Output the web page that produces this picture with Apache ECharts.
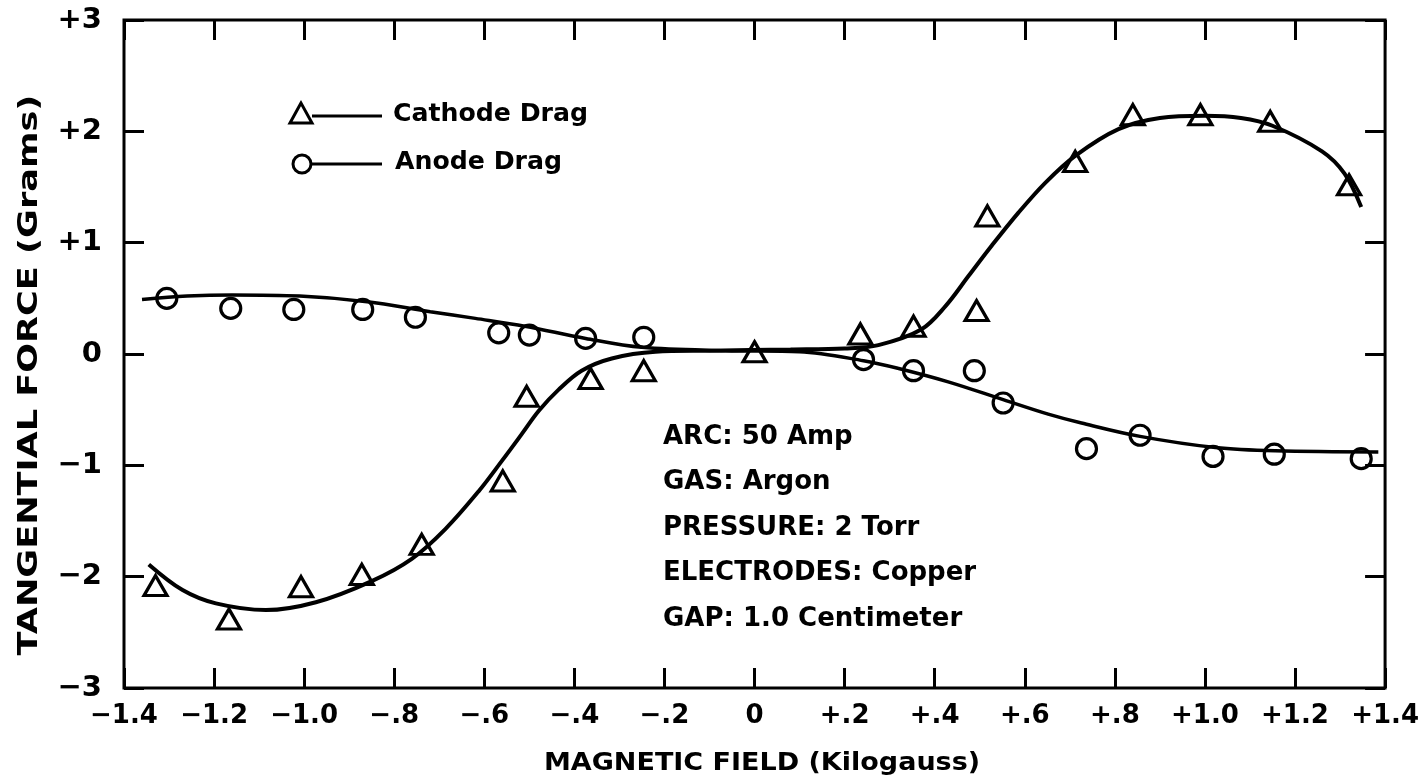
<!DOCTYPE html>
<html><head><meta charset="utf-8">
<script src="https://cdn.jsdelivr.net/npm/echarts@6/dist/echarts.min.js"></script>
<style>html,body{margin:0;padding:0;background:#fff}#c{width:1422px;height:779px}</style>
</head><body><div id="c"></div>
<script>
// ---- data ----
const cathodePoints = [[-1.33,-2.08],[-1.167,-2.38],[-1.007,-2.09],[-0.872,-1.98],[-0.739,-1.71],[-0.559,-1.14],[-0.506,-0.38],[-0.364,-0.22],[-0.246,-0.15],[0.0,0.02],[0.235,0.18],[0.353,0.25],[0.493,0.39],[0.517,1.24],[0.712,1.73],[0.84,2.15],[0.99,2.15],[1.145,2.09],[1.32,1.52]];
const anodePoints = [[-1.305,0.50],[-1.163,0.41],[-1.023,0.40],[-0.87,0.40],[-0.753,0.33],[-0.568,0.19],[-0.50,0.17],[-0.375,0.14],[-0.246,0.15],[0.242,-0.05],[0.353,-0.15],[0.488,-0.15],[0.552,-0.44],[0.737,-0.85],[0.856,-0.73],[1.018,-0.92],[1.154,-0.90],[1.347,-0.94]];
const cathodeCurve = [[-1.345,-1.89],[-1.27,-2.12],[-1.196,-2.24],[-1.085,-2.30],[-0.974,-2.23],[-0.85,-2.04],[-0.761,-1.84],[-0.686,-1.57],[-0.612,-1.23],[-0.561,-0.96],[-0.517,-0.72],[-0.479,-0.51],[-0.435,-0.32],[-0.384,-0.15],[-0.317,-0.04],[-0.22,0.02],[-0.10,0.03],[0.08,0.04],[0.20,0.05],[0.275,0.08],[0.37,0.22],[0.424,0.43],[0.475,0.70],[0.526,0.97],[0.586,1.27],[0.646,1.54],[0.712,1.78],[0.808,2.02],[0.90,2.12],[1.0,2.14],[1.08,2.12],[1.15,2.05],[1.26,1.82],[1.31,1.62],[1.347,1.32]];
const anodeCurve = [[-1.36,0.49],[-1.26,0.52],[-1.16,0.53],[-1.01,0.52],[-0.86,0.47],[-0.72,0.38],[-0.62,0.32],[-0.51,0.25],[-0.375,0.14],[-0.25,0.06],[-0.065,0.03],[0.10,0.02],[0.242,-0.06],[0.32,-0.13],[0.43,-0.25],[0.552,-0.41],[0.652,-0.54],[0.726,-0.62],[0.856,-0.74],[1.023,-0.84],[1.156,-0.87],[1.385,-0.88]];
const xTickLabels = ['−1.4','−1.2','−1.0','−.8','−.6','−.4','−.2','0','+.2','+.4','+.6','+.8','+1.0','+1.2','+1.4'];
const yTickLabels = ['−3','−2','−1','0','+1','+2','+3'];
const notes = ['ARC: 50 Amp','GAS: Argon','PRESSURE: 2 Torr','ELECTRODES: Copper','GAP: 1.0 Centimeter'];
const legendNames = ['Cathode Drag','Anode Drag'];
const xTitle = 'MAGNETIC FIELD (Kilogauss)';
const yTitle = 'TANGENTIAL FORCE (Grams)';

const FONT = 'DejaVu Sans';
const chart = echarts.init(document.getElementById('c'));
const markerStyle = {color:'rgba(0,0,0,0)', borderColor:'#000', borderWidth:3.2, opacity:1};
const tick = {show:true, inside:true, length:20, lineStyle:{color:'#000', width:3}};
const xLab = v => xTickLabels[Math.round((v+1.4)/0.2)];
const yLab = v => yTickLabels[Math.round(v+3)];
const f = s => 'bold ' + s + 'px "' + FONT + '"';

const graphics = [
  {type:'polygon', shape:{points:[[301,103],[290,123],[312,123]]}, style:{fill:'none', stroke:'#000', lineWidth:3}},
  {type:'line', shape:{x1:312,y1:116,x2:382,y2:116}, style:{stroke:'#000', lineWidth:3}},
  {type:'text', x:393, y:115, scaleX:1.05, style:{text:legendNames[0], font:f(24), fill:'#000', verticalAlign:'middle'}},
  {type:'circle', shape:{cx:302,cy:164,r:9}, style:{fill:'none', stroke:'#000', lineWidth:3}},
  {type:'line', shape:{x1:311,y1:164,x2:382,y2:164}, style:{stroke:'#000', lineWidth:3}},
  {type:'text', x:395, y:163, scaleX:1.05, style:{text:legendNames[1], font:f(24), fill:'#000', verticalAlign:'middle'}},
  {type:'text', x:30, y:375, rotation:Math.PI/2, scaleX:1.35, style:{text:yTitle, font:f(26), fill:'#000', align:'center', verticalAlign:'middle'}},
  {type:'text', x:762, y:763, scaleX:1.08, style:{text:xTitle, font:f(25), fill:'#000', align:'center', verticalAlign:'middle'}}
];
notes.forEach((t,i)=>graphics.push({type:'text', x:663, y:437+i*45.5, style:{text:t, font:f(26), fill:'#000', verticalAlign:'middle'}}));

chart.setOption({
  animation:false,
  backgroundColor:'#fff',
  grid:{left:124, right:35, top:20, bottom:91, show:true, borderColor:'#000', borderWidth:3, backgroundColor:'transparent'},
  xAxis:[
    {type:'value', position:'bottom', min:-1.4, max:1.4, interval:0.2,
     axisLine:{show:false, onZero:false}, splitLine:{show:false}, axisTick:tick,
     axisLabel:{formatter:xLab, color:'#000', fontFamily:FONT, fontWeight:'bold', fontSize:26, margin:15}},
    {type:'value', position:'top', min:-1.4, max:1.4, interval:0.2,
     axisLine:{show:false, onZero:false}, splitLine:{show:false}, axisTick:tick, axisLabel:{show:false}}
  ],
  yAxis:[
    {type:'value', position:'left', min:-3, max:3, interval:1,
     axisLine:{show:false, onZero:false}, splitLine:{show:false}, axisTick:tick,
     axisLabel:{formatter:yLab, color:'#000', fontFamily:FONT, fontWeight:'bold', fontSize:29, margin:22}},
    {type:'value', position:'right', min:-3, max:3, interval:1,
     axisLine:{show:false, onZero:false}, splitLine:{show:false}, axisTick:tick, axisLabel:{show:false}}
  ],
  series:[
    {type:'line', data:cathodeCurve, smooth:0.35, showSymbol:false, lineStyle:{color:'#000', width:4}, z:3},
    {type:'line', data:anodeCurve, smooth:0.35, showSymbol:false, lineStyle:{color:'#000', width:3.5}, z:3},
    {type:'scatter', name:legendNames[0], data:cathodePoints, symbol:'triangle', symbolSize:[23,20], itemStyle:markerStyle, z:4},
    {type:'scatter', name:legendNames[1], data:anodePoints, symbol:'circle', symbolSize:20, itemStyle:markerStyle, z:4}
  ],
  graphic:graphics
});
</script></body></html>
